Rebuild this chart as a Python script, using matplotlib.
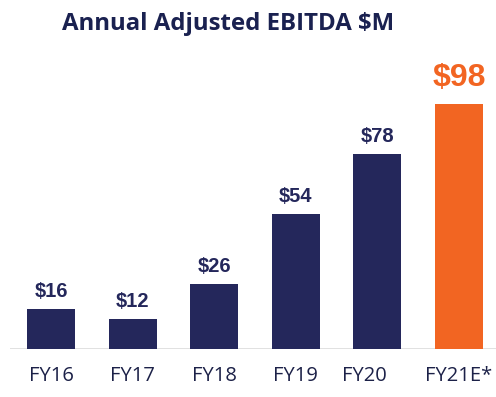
import matplotlib.pyplot as plt
import matplotlib.transforms as mtransforms

years = ["FY16", "FY17", "FY18", "FY19", "FY20", "FY21E*"]
ebitda = [16, 12, 26, 54, 78, 98]
labels = ["$16", "$12", "$26", "$54", "$78", "$98"]

navy = "#24275b"
orange = "#f26522"
colors = [navy] * 5 + [orange]

fig = plt.figure(figsize=(4.96, 3.97), dpi=100)
ax = fig.add_axes([10 / 496, 48 / 397, 486 / 496, 309 / 397])

x = range(len(years))
bars = ax.bar(x, ebitda, width=0.59, color=colors, zorder=2)

for i, (b, lab) in enumerate(zip(bars, labels)):
    last = i == len(labels) - 1
    ax.annotate(lab, (b.get_x() + b.get_width() / 2, b.get_height()),
                xytext=(0, 8 if last else 6), textcoords="offset points",
                ha="center", va="bottom", fontweight="bold",
                fontsize=23 if last else 14.5, family="Liberation Sans",
                color=orange if last else navy)

ax.set_xlim(-0.502, 5.453)
ax.set_ylim(0, 123.6)
ax.axhline(0, color="#dcdcdc", lw=1.2, zorder=1)

ax.set_xticks(list(x))
ax.set_xticklabels(years, fontsize=14.5, color="#1c2148", family="Open Sans")
ax.tick_params(axis="x", length=0, pad=12)
ax.set_yticks([])
for s in ax.spines.values():
    s.set_visible(False)

# FY20 label sits a bit left of its bar in the original
lbl = ax.get_xticklabels()[4]
lbl.set_transform(lbl.get_transform() + mtransforms.ScaledTranslation(-13 / 100, 0, fig.dpi_scale_trans))

fig.text(228 / 496, 1 - 24 / 397, "Annual Adjusted EBITDA $M", ha="center", va="center",
         fontsize=17.3, fontweight="bold", color="#1a2150", family="Open Sans")

fig.savefig("out.png", dpi=100)
